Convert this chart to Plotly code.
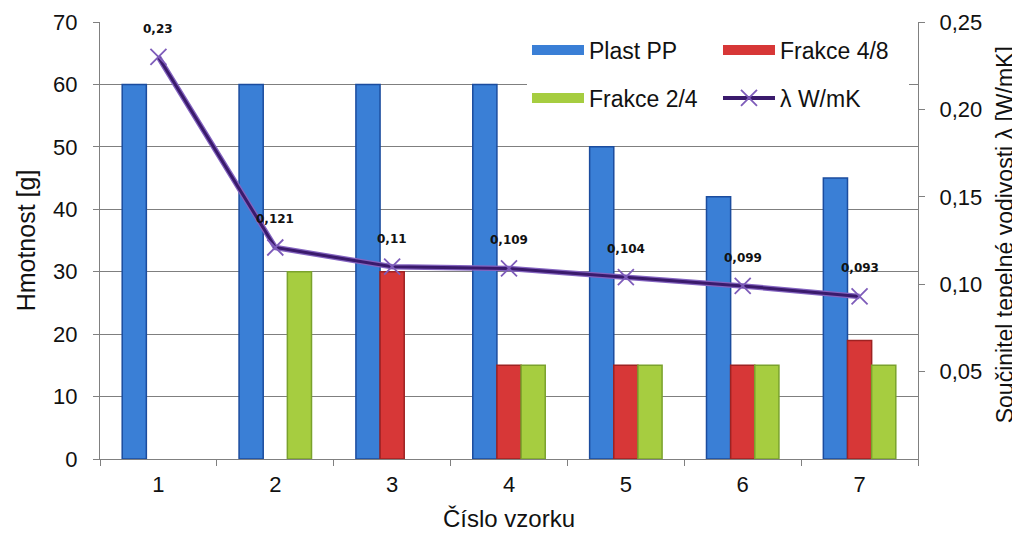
import plotly.graph_objects as go

samples = ["1", "2", "3", "4", "5", "6", "7"]
plast_pp = [60, 60, 60, 60, 50, 42, 45]
frakce_48 = [0, 0, 30, 15, 15, 15, 19]
frakce_24 = [0, 30, 0, 15, 15, 15, 15]
lam = [0.23, 0.121, 0.11, 0.109, 0.104, 0.099, 0.093]
lam_labels = ["0,23", "0,121", "0,11", "0,109", "0,104", "0,099", "0,093"]
left_ticks = [0, 10, 20, 30, 40, 50, 60, 70]
right_ticks = [0.05, 0.10, 0.15, 0.20, 0.25]

BLUE, BLUE_E = "#3a7fd6", "#1b4c9e"
RED, RED_E = "#d73737", "#9e2222"
GREEN, GREEN_E = "#a6cd40", "#7aa22c"
LINE = "#3a1a6c"
HALO = "#8464c0"
MARK = "#7e5cba"
FONT = "Liberation Sans, Arial, sans-serif"

fig = go.Figure()
for name, vals, c, e in [("Plast PP", plast_pp, BLUE, BLUE_E),
                         ("Frakce 4/8", frakce_48, RED, RED_E),
                         ("Frakce 2/4", frakce_24, GREEN, GREEN_E)]:
    fig.add_trace(go.Bar(x=samples, y=[v if v else None for v in vals], name=name,
                         showlegend=False,
                         marker=dict(color=c, line=dict(color=e, width=1.5))))

# λ line: light halo + dark core
fig.add_trace(go.Scatter(x=samples, y=lam, yaxis="y2", mode="lines", showlegend=False,
                         line=dict(color=HALO, width=5.5), hoverinfo="skip"))
fig.add_trace(go.Scatter(x=samples, y=lam, yaxis="y2", mode="lines+markers",
                         name="λ W/mK", showlegend=False,
                         line=dict(color=LINE, width=3),
                         marker=dict(symbol="x-thin", size=16,
                                     line=dict(color=MARK, width=1.8), color=MARK)))

# legend entries
leg_items = [("Plast PP", BLUE, "legend"), ("Frakce 4/8", RED, "legend"),
             ("Frakce 2/4", GREEN, "legend2")]
for name, c, lg in leg_items:
    fig.add_trace(go.Scatter(x=[None], y=[None], mode="lines", name=name,
                             legend=lg, line=dict(color=c, width=12)))
fig.add_trace(go.Scatter(x=[None], y=[None], yaxis="y2", mode="lines+markers",
                         name="λ W/mK", legend="legend2",
                         line=dict(color=LINE, width=4),
                         marker=dict(symbol="x-thin", size=16,
                                     line=dict(color=MARK, width=1.8), color=MARK)))

for i, (v, t) in enumerate(zip(lam, lam_labels)):
    fig.add_annotation(x=i, y=v, xref="x", yref="y2", text="<b>" + t + "</b>",
                       showarrow=False, yshift=28,
                       font=dict(family="DejaVu Sans, sans-serif", size=12, color="#111"))

# right axis title
fig.add_annotation(x=1.1064, y=0.512, xref="paper", yref="paper",
                   text="Součinitel tepelné vodivosti λ [W/mK]", textangle=-90,
                   showarrow=False, xanchor="center", yanchor="middle",
                   font=dict(family=FONT, size=23, color="#111"))

leg_common = dict(orientation="h", xanchor="left", yanchor="middle",
                  bgcolor="white", borderwidth=0, itemwidth=52, entrywidth=124,
                  font=dict(family=FONT, size=23, color="#111"),
                  itemclick=False, itemdoubleclick=False)

fig.update_layout(
    width=1012, height=527,
    margin=dict(l=92, r=102, t=14, b=76),
    paper_bgcolor="white", plot_bgcolor="white",
    separators=", ",
    barmode="group", bargap=0.38, bargroupgap=0,
    font=dict(family=FONT, size=22, color="#111"),
    xaxis=dict(type="category", categoryorder="array", categoryarray=samples,
               range=[-0.5, 6.5], showline=True, linecolor="#808080", linewidth=1.2,
               ticks="outside", tickson="boundaries", ticklen=6, tickcolor="#808080",
               tickfont=dict(size=22), showgrid=False, ticklabelstandoff=5,
               automargin=False,
               title=dict(text="Číslo vzorku", font=dict(size=24), standoff=14)),
    yaxis=dict(range=[0, 70], tickvals=left_ticks, showline=True, linecolor="#808080",
               linewidth=1.2, ticks="outside", ticklen=6, tickcolor="#808080",
               gridcolor="#7f7f7f", gridwidth=1.2, zeroline=False, automargin=False,
               tickfont=dict(size=22), ticklabelstandoff=11,
               title=dict(text="Hmotnost [g]", font=dict(size=25), standoff=10)),
    yaxis2=dict(range=[0, 0.25], overlaying="y", side="right", tickvals=right_ticks,
                tickformat=".2f", showline=True, linecolor="#808080", linewidth=1.2,
                ticks="outside", ticklen=6, tickcolor="#808080", showgrid=False,
                zeroline=False, automargin=False, tickfont=dict(size=22),
                ticklabelstandoff=10),
    legend=dict(x=0.522, y=0.936, **leg_common),
    legend2=dict(x=0.522, y=0.826, **leg_common),
)

fig.write_html("out.html")
